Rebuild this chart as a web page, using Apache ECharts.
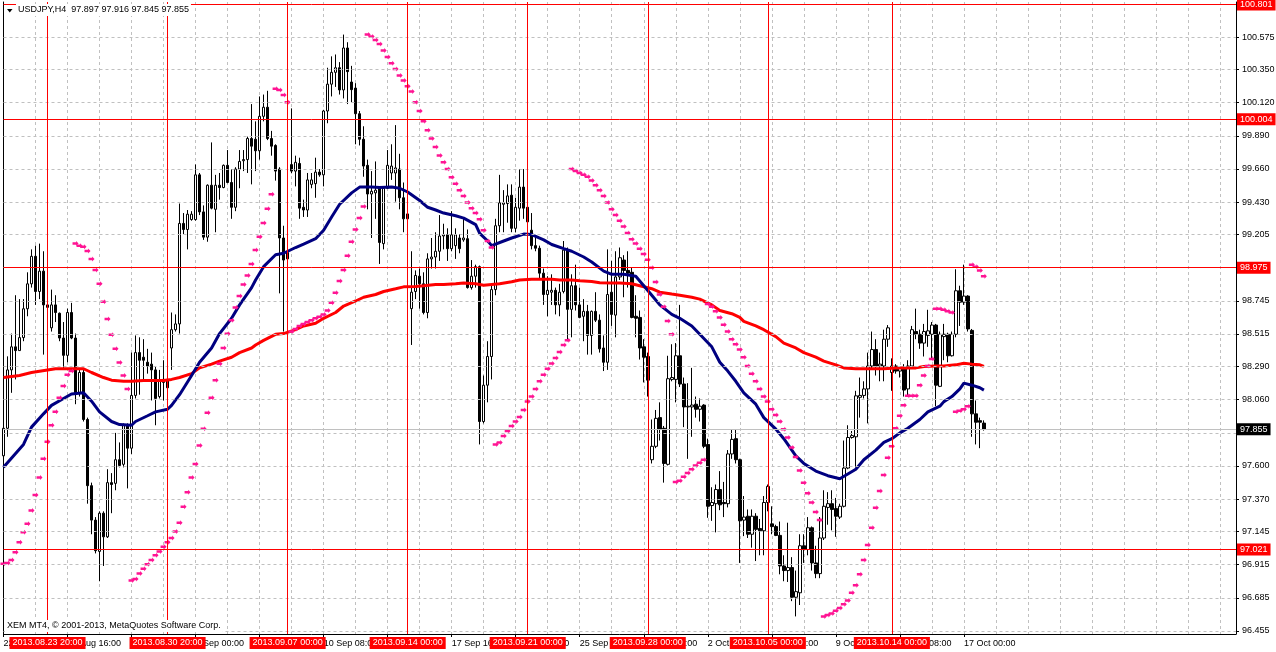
<!DOCTYPE html>
<html><head><meta charset="utf-8">
<script src="https://cdn.jsdelivr.net/npm/echarts@6/dist/echarts.min.js"></script>
<style>html,body{margin:0;padding:0;background:#fff;}#c{width:1276px;height:652px;}</style>
</head><body><div id="c"></div>
<script>
// ---------- DATA (USDJPY H4) ----------
const opens = [97.670,97.861,98.266,98.426,98.400,98.490,98.690,98.863,99.054,98.810,98.951,98.717,98.558,98.717,98.659,98.487,98.367,98.664,98.487,98.107,
98.248,97.922,97.463,97.224,97.007,97.272,97.108,97.484,97.479,97.643,97.611,97.882,97.723,98.089,98.386,98.354,98.319,98.306,98.266,98.081,
98.179,98.200,98.418,98.545,98.585,99.282,99.240,99.309,99.309,99.619,99.362,99.187,99.547,99.380,99.547,99.531,99.685,99.566,99.394,99.659,
99.717,99.725,99.871,99.866,99.786,100.025,100.088,99.871,99.823,99.659,99.181,99.036,99.690,99.645,99.698,99.394,99.375,99.553,99.558,99.638,
99.619,100.062,100.248,100.330,100.362,100.208,100.499,100.263,100.221,100.043,99.866,99.685,99.486,99.494,99.526,99.142,99.526,99.632,99.632,99.659,
99.460,99.314,98.691,98.810,98.916,98.863,98.664,99.036,99.049,99.089,99.195,99.203,99.107,99.128,99.181,99.168,99.176,98.837,98.916,98.982,
97.908,98.160,98.359,98.823,99.266,99.415,99.420,99.478,99.248,99.388,99.534,99.394,99.235,99.128,99.110,98.937,98.789,98.805,98.818,98.717,
98.810,99.097,98.686,98.850,98.717,98.638,98.672,98.505,98.672,98.611,98.418,98.319,98.805,98.646,98.911,99.028,98.956,98.943,98.638,98.630,
98.426,98.359,97.643,97.736,97.935,97.861,97.611,98.200,98.200,98.364,98.168,98.009,98.009,98.028,97.993,98.022,97.749,97.325,97.338,97.436,
97.346,97.338,97.683,97.789,97.643,97.224,97.251,97.126,97.251,97.166,97.150,97.346,97.198,97.179,97.118,96.906,96.874,96.895,96.689,96.720,
97.046,97.020,97.171,96.927,96.853,97.100,97.312,97.338,97.304,97.245,97.320,97.585,97.797,97.802,98.076,98.089,98.134,98.293,98.407,98.293,
98.293,98.479,98.248,98.293,98.258,98.285,98.134,98.293,98.532,98.513,98.452,98.505,98.513,98.577,98.152,98.497,98.513,98.364,98.513,98.815,
98.736,98.778,98.540,97.961,97.914,97.897];
const closes = [97.861,98.266,98.426,98.400,98.490,98.690,98.863,99.054,98.810,98.951,98.717,98.700,98.717,98.664,98.487,98.367,98.664,98.487,98.107,98.248,
97.922,97.463,97.224,97.012,97.272,97.108,97.484,97.471,97.643,97.603,97.882,97.723,98.089,98.386,98.333,98.333,98.293,98.266,98.068,98.187,
98.200,98.142,98.545,98.585,99.282,99.240,99.346,99.346,99.619,99.362,99.187,99.547,99.388,99.547,99.531,99.685,99.566,99.394,99.659,99.712,
99.725,99.871,99.818,99.786,100.025,100.088,99.871,99.818,99.645,99.181,99.028,99.081,99.645,99.706,99.388,99.375,99.584,99.584,99.638,99.619,
100.062,100.248,100.330,100.362,100.208,100.499,100.335,100.210,100.043,99.866,99.680,99.486,99.505,99.513,99.150,99.526,99.685,99.680,99.667,99.460,
99.314,99.348,98.805,98.921,98.863,98.664,99.036,99.049,99.089,99.195,99.203,99.107,99.203,99.203,99.107,99.181,98.837,98.916,98.982,97.908,
98.160,98.359,98.823,99.266,99.425,99.425,99.473,99.248,99.394,99.534,99.388,99.293,99.128,99.110,98.937,98.789,98.818,98.818,98.717,98.805,
99.097,98.686,98.850,98.717,98.630,98.672,98.505,98.672,98.611,98.412,98.319,98.789,98.651,98.911,99.044,98.956,98.937,98.630,98.624,98.418,
98.354,98.195,97.736,97.930,97.855,97.617,98.205,98.213,98.364,98.168,98.009,98.014,98.022,97.993,98.014,97.736,97.320,97.346,97.436,97.330,
97.338,97.683,97.784,97.643,97.219,97.245,97.126,97.251,97.160,97.150,97.346,97.458,97.179,97.118,96.906,96.874,96.895,96.689,96.728,97.046,
97.020,97.171,96.927,96.853,97.100,97.320,97.338,97.298,97.251,97.320,97.585,97.797,97.810,98.086,98.089,98.134,98.293,98.407,98.293,98.306,
98.479,98.558,98.293,98.258,98.285,98.126,98.293,98.545,98.513,98.452,98.532,98.537,98.577,98.160,98.513,98.513,98.364,98.513,98.815,98.736,
98.778,98.550,97.961,97.903,97.903,97.855];
const lows = [97.564,97.802,98.107,98.200,98.400,98.465,98.638,98.837,98.717,98.757,98.372,98.598,98.532,98.598,98.465,98.266,98.319,98.479,98.028,98.081,
97.908,97.338,97.126,96.993,96.800,96.906,97.100,97.272,97.431,97.590,97.590,97.444,97.683,98.068,98.094,98.187,98.240,98.054,97.882,98.068,
98.054,98.081,98.266,98.532,98.518,99.208,99.102,99.301,99.301,99.340,99.168,99.155,99.380,99.221,99.447,99.526,99.561,99.314,99.367,99.526,
99.645,99.632,99.553,99.645,99.725,99.990,99.860,99.752,99.579,98.797,98.532,98.996,99.630,99.539,99.314,99.327,99.327,99.526,99.460,99.606,
99.539,99.977,100.163,100.229,100.176,100.149,100.110,100.123,99.831,99.823,99.606,99.380,99.181,99.314,99.001,99.102,99.520,99.584,99.433,99.380,
99.221,99.181,98.439,98.757,98.691,98.651,98.624,98.969,98.969,99.022,99.102,99.022,99.089,99.036,99.075,99.155,98.830,98.823,98.837,97.749,
97.895,98.041,98.200,98.784,99.221,99.221,99.287,99.221,99.221,99.301,99.314,99.208,99.102,99.089,98.890,98.717,98.638,98.717,98.651,98.638,
98.797,98.465,98.492,98.678,98.624,98.465,98.372,98.372,98.598,98.386,98.258,98.266,98.571,98.492,98.890,98.770,98.837,98.624,98.492,98.338,
98.179,98.081,97.617,97.723,97.776,97.484,97.603,98.187,98.041,98.147,97.869,97.649,97.802,97.935,97.908,97.723,97.240,97.219,97.139,97.293,
97.245,97.312,97.649,97.617,96.927,97.113,97.100,97.033,96.940,96.980,96.980,97.285,97.126,97.113,96.848,96.800,96.795,96.662,96.556,96.635,
96.927,96.980,96.874,96.821,96.821,97.086,97.192,97.153,97.108,97.232,97.312,97.577,97.789,97.590,97.935,98.068,97.895,98.266,98.227,98.187,
98.187,98.426,98.121,98.240,98.213,98.081,98.081,98.280,98.479,98.412,98.359,98.426,98.346,98.014,98.147,98.333,98.319,98.359,98.492,98.571,
98.717,98.532,97.802,97.749,97.723,97.845];
const highs = [97.961,98.360,98.518,98.784,98.757,98.757,98.943,99.102,99.128,99.142,99.089,98.784,98.823,98.784,98.664,98.598,98.691,98.731,98.518,98.266,
98.266,97.935,97.484,97.245,97.285,97.285,97.577,97.550,97.829,97.763,97.895,97.895,98.386,98.505,98.492,98.479,98.412,98.386,98.293,98.266,
98.333,98.280,98.664,98.651,99.420,99.354,99.375,99.367,99.691,99.632,99.407,99.553,99.844,99.619,99.632,99.691,99.791,99.659,99.672,99.791,
99.791,99.884,100.110,99.990,100.163,100.176,100.202,99.924,99.831,99.672,99.266,99.261,100.080,99.752,99.738,99.447,99.632,99.632,99.738,99.659,
100.070,100.362,100.441,100.454,100.401,100.592,100.539,100.375,100.255,100.062,99.956,99.725,99.645,99.712,99.539,99.539,99.791,99.831,99.964,99.765,
99.566,99.394,99.089,98.956,98.969,98.943,99.075,99.181,99.221,99.340,99.280,99.248,99.367,99.248,99.208,99.314,99.240,99.028,98.996,98.990,
98.227,98.465,98.850,99.314,99.619,99.513,99.553,99.553,99.460,99.659,99.659,99.399,99.354,99.195,99.128,98.969,98.916,98.929,98.837,98.863,
99.160,99.115,98.929,98.996,98.837,98.757,98.717,98.678,98.805,98.651,98.505,99.102,99.022,99.089,99.115,99.062,99.089,98.975,98.784,98.678,
98.479,98.386,97.922,97.988,98.041,97.877,98.364,98.444,98.452,98.717,98.213,98.174,98.280,98.081,98.068,98.028,97.789,97.452,97.471,97.564,
97.489,97.710,97.855,97.855,97.650,97.391,97.298,97.298,97.272,97.232,97.391,97.471,97.320,97.192,97.214,96.980,97.206,96.967,96.874,97.126,
97.126,97.245,97.180,97.046,97.245,97.431,97.418,97.431,97.378,97.338,97.776,97.882,97.842,98.121,98.213,98.187,98.386,98.532,98.479,98.386,
98.545,98.577,98.346,98.306,98.293,98.306,98.333,98.571,98.691,98.545,98.585,98.683,98.598,98.585,98.532,98.585,98.524,98.532,98.964,98.850,
98.996,98.784,98.550,98.054,97.935,97.916];

// fast moving average (navy), read at these bars
const maFastBars = [0,5,7,10,12,15,17,20,22,24,27,29,32,33,36,38,41,42,44,47,49,52,54,57,59,62,63,65,68,70,73,75,78,80,82,84,87,89,92,94,97,99,101,104,106,108,110,113,115,118,119,121,122,125,127,130,132,135,137,140,142,145,147,150,152,155,158,160,162,164,167,169,172,174,177,179,181,183,185,188,190,193,195,198,200,203,206,209,213,215,218,220,222,224,226,229,231,234,235,237,239,240,242,244,245];
const maFastValues = [97.590,97.749,97.869,97.961,98.020,98.068,98.099,98.107,98.049,97.975,97.908,97.887,97.882,97.908,97.948,97.975,97.993,98.020,98.094,98.227,98.319,98.418,98.518,98.624,98.717,98.837,98.890,98.982,99.065,99.075,99.115,99.139,99.176,99.235,99.327,99.415,99.494,99.534,99.534,99.531,99.534,99.526,99.500,99.441,99.394,99.375,99.354,99.335,99.319,99.274,99.213,99.160,99.128,99.160,99.181,99.208,99.205,99.168,99.136,99.107,99.089,99.049,99.014,98.951,98.929,98.929,98.916,98.850,98.784,98.717,98.651,98.624,98.571,98.513,98.426,98.319,98.258,98.187,98.107,98.028,97.935,97.855,97.789,97.670,97.617,97.564,97.532,97.511,97.577,97.643,97.710,97.763,97.789,97.829,97.861,97.922,97.975,98.014,98.046,98.081,98.134,98.174,98.160,98.142,98.126];

// slow moving average (red), read at these bars
const maSlowBars = [0,4,7,11,13,16,20,22,25,27,30,32,35,40,42,44,47,49,52,54,57,59,62,63,65,68,70,73,75,78,80,83,85,88,90,93,95,98,100,103,105,108,110,113,115,118,120,124,127,129,132,137,139,142,144,147,149,152,154,157,159,162,164,167,169,172,174,177,179,182,184,185,188,190,193,195,198,200,203,205,208,210,213,220,223,228,230,233,235,238,240,242,244,245];
const maSlowValues = [98.213,98.227,98.248,98.266,98.274,98.274,98.274,98.248,98.213,98.195,98.187,98.187,98.192,98.192,98.200,98.213,98.240,98.280,98.306,98.327,98.354,98.386,98.418,98.439,98.471,98.513,98.518,98.545,98.571,98.590,98.624,98.664,98.709,98.744,98.770,98.789,98.810,98.829,98.842,98.845,98.850,98.858,98.858,98.863,98.869,98.863,98.853,98.863,98.877,98.890,98.895,98.895,98.890,98.890,98.884,98.879,98.871,98.869,98.869,98.863,98.850,98.829,98.805,98.792,98.784,98.770,98.757,98.717,98.678,98.656,98.630,98.603,98.571,98.545,98.497,98.452,98.418,98.386,98.354,98.327,98.301,98.280,98.274,98.274,98.280,98.280,98.290,98.293,98.293,98.301,98.312,98.306,98.301,98.290];

// parabolic SAR, one value per bar
const sarValues = [96.922,96.927,96.948,97.001,97.070,97.139,97.198,97.290,97.399,97.519,97.649,97.768,97.882,97.975,98.073,98.155,98.232,98.258,
99.142,99.128,99.120,99.091,99.036,98.959,98.863,98.739,98.619,98.510,98.412,98.317,98.227,98.134,
96.805,96.816,96.853,96.887,96.917,96.948,96.980,97.007,97.039,97.070,97.100,97.145,97.206,97.317,97.418,97.519,97.614,97.741,97.858,97.969,98.073,98.195,98.309,98.418,98.516,98.611,98.699,98.778,98.858,98.921,99.001,99.097,99.189,99.285,99.383,99.484,
100.216,100.208,100.173,100.123,
98.532,98.550,98.571,98.585,98.598,98.611,98.624,98.635,98.651,98.678,98.731,98.802,98.882,98.959,99.057,99.155,99.240,99.319,99.399,
100.592,100.579,100.555,100.526,100.481,100.436,100.393,100.354,100.308,100.274,100.234,100.197,100.123,100.062,99.990,99.929,99.871,99.812,99.754,99.706,99.659,99.603,99.558,99.513,99.473,99.428,99.388,99.354,99.311,99.234,99.160,99.115,
97.749,97.763,97.808,97.842,97.877,97.908,97.940,97.988,98.046,98.081,98.134,98.187,98.232,98.274,98.311,98.349,98.391,98.439,98.471,
99.659,99.645,99.632,99.619,99.606,99.579,99.547,99.513,99.473,99.428,99.380,99.341,99.301,99.261,99.216,99.173,99.142,99.107,99.070,99.030,98.975,98.876,98.789,98.704,98.606,98.513,
97.489,97.497,97.524,97.550,97.577,97.603,97.622,97.643,
98.723,98.704,98.672,98.630,98.579,98.532,98.479,98.444,98.407,98.354,98.293,98.240,98.187,98.134,98.081,98.046,97.993,97.954,97.908,97.855,97.797,97.728,97.662,97.569,97.484,97.410,97.346,97.280,97.224,
96.556,96.566,96.577,96.596,96.614,96.641,96.667,96.720,96.773,96.848,96.948,97.052,97.171,97.309,97.426,97.537,97.657,97.736,97.861,97.948,98.020,98.086,98.086,98.086,98.160,98.227,98.293,98.341,
98.691,98.691,98.683,98.672,98.664,
97.975,97.983,97.993,98.014,
98.996,98.982,98.956,98.916];

// axis tick labels
const tickBars = [0,16,32,48,64,80,96,112,128,144,160,176,192,208,224,240];
const tickLabels = ['22 Aug 2013','26 Aug 16:00','29 Aug 08:00','3 Sep 00:00','5 Sep 16:00','10 Sep 08:00','13 Sep 00:00','17 Sep 16:00','20 Sep 08:00','25 Sep 00:00','27 Sep 16:00','2 Oct 08:00','7 Oct 00:00','9 Oct 16:00','14 Oct 08:00','17 Oct 00:00'];
const priceLevels = [96.455,96.685,96.915,97.145,97.370,97.600,97.830,98.060,98.290,98.515,98.745,98.975,99.205,99.430,99.660,99.890,100.120,100.350,100.575];

// chart objects
const hLineLevels = [100.801,100.004,98.975,97.021];
const currentPrice = 97.855;
const vLineBars = [11,41,71,101,131,161,191,222];
const vLineLabels = ['2013.08.23 20:00','2013.08.30 20:00','2013.09.07 00:00','2013.09.14 00:00','2013.09.21 00:00','2013.09.28 00:00','2013.10.05 00:00','2013.10.14 00:00'];
const titleText = 'USDJPY,H4  97.897 97.916 97.845 97.855';
const copyrightText = 'XEM MT4, \u00a9 2001-2013, MetaQuotes Software Corp.';

// ---------- CHART ----------
const N_SLOTS = 309;
const FONT = 'Liberation Sans';
const categories = Array.from({length: N_SLOTS}, (_, i) => String(i));
const candleData = opens.map((o, i) => [o, closes[i], lows[i], highs[i]]);
const maFast = maFastBars.map((b, i) => [b, maFastValues[i]]);
const maSlow = maSlowBars.map((b, i) => [b, maSlowValues[i]]);
const tickSet = new Set(tickBars);
const Y_MIN = 96.434, Y_MAX = 100.818;

const tagLabel = (bg) => ({
  show: true, position: 'end', distance: 1, color: '#fff', backgroundColor: bg,
  fontSize: 9, fontFamily: FONT, lineHeight: 10, padding: [1, 3, 1, 3],
  formatter: p => Number(p.data && p.data.yAxis != null ? p.data.yAxis : p.value).toFixed(3)
});

const chart = echarts.init(document.getElementById('c'), null, {renderer: 'canvas'});
chart.setOption({
  animation: false,
  backgroundColor: '#ffffff',
  textStyle: {fontFamily: FONT},
  grid: {left: 3.5, right: 40, top: 2, bottom: 18, outerBoundsMode: 'none'},
  title: [
    {text: titleText, left: 16, top: 4, padding: [1, 2, 1, 2], backgroundColor: '#fff',
     textStyle: {fontSize: 9, fontWeight: 'normal', color: '#000', fontFamily: FONT, lineHeight: 10}},
    {text: copyrightText, left: 5, top: 620, padding: [1, 2, 1, 2], backgroundColor: '#fff',
     textStyle: {fontSize: 9, fontWeight: 'normal', color: '#000', fontFamily: FONT, lineHeight: 10}}
  ],
  graphic: [{type: 'polygon', z: 100, shape: {points: [[7, 9], [12.5, 9], [9.75, 12.5]]}, style: {fill: '#000'}}],
  xAxis: {
    type: 'category', data: categories, boundaryGap: false,
    axisLine: {show: true, lineStyle: {color: '#000', width: 1}},
    axisTick: {show: true, length: 3, interval: (i) => tickSet.has(i), lineStyle: {color: '#000'}},
    axisLabel: {show: true, interval: (i) => tickSet.has(i), align: 'left', margin: 5, color: '#000',
      fontSize: 9, fontFamily: FONT,
      formatter: (v, i) => { const k = tickBars.indexOf(i); return k >= 0 ? tickLabels[k] : ''; }},
    splitLine: {show: true, interval: (i) => i > 0 && i % 8 === 0, lineStyle: {color: '#c0c0c0', type: [3, 3], width: 1}}
  },
  yAxis: [
    {type: 'value', position: 'right', min: Y_MIN, max: Y_MAX, scale: true,
     axisLine: {show: true, lineStyle: {color: '#000'}},
     axisTick: {show: true, length: 3, customValues: priceLevels, lineStyle: {color: '#000'}},
     axisLabel: {show: true, customValues: priceLevels, margin: 6, color: '#000', fontSize: 9, fontFamily: FONT,
       formatter: v => Number(v).toFixed(3)},
     splitLine: {show: false}},
    {type: 'value', position: 'left', min: Y_MIN, max: Y_MAX, scale: true,
     axisLine: {show: true, lineStyle: {color: '#000'}}, axisTick: {show: false}, axisLabel: {show: false}, splitLine: {show: false}}
  ],
  series: [
    {name: 'grid', type: 'line', data: [], z: 1, clip: false, silent: true,
     markLine: {silent: true, symbol: 'none', animation: false, label: {show: false}, precision: 3,
       lineStyle: {color: '#c0c0c0', type: [3, 3], width: 1},
       data: priceLevels.map(v => ({yAxis: v}))}},
    {name: 'price', type: 'line', data: [], z: 1.2, clip: false, silent: true,
     markLine: {silent: true, symbol: 'none', animation: false, precision: 3,
       lineStyle: {color: '#c0c0c0', type: 'solid', width: 1},
       label: tagLabel('#000'),
       data: [{yAxis: currentPrice}]}},
    {name: 'hlines', type: 'line', data: [], z: 1.4, clip: false, silent: true,
     markLine: {silent: true, symbol: 'none', animation: false, precision: 3,
       lineStyle: {color: '#ff0000', type: 'solid', width: 1},
       label: tagLabel('#ff0000'),
       data: hLineLevels.map(v => ({yAxis: v}))}},
    {name: 'vlines', type: 'line', data: [], z: 1.5, clip: false, silent: true,
     markLine: {silent: true, symbol: 'none', animation: false,
       lineStyle: {color: '#ff0000', type: 'solid', width: 1},
       label: {show: true, position: 'start', distance: 3, color: '#fff', backgroundColor: '#ff0000',
         fontSize: 9, fontFamily: FONT, lineHeight: 10, padding: [1, 3, 1, 3]},
       data: vLineBars.map((b, i) => ({xAxis: b, label: {formatter: vLineLabels[i]}}))}},
    {name: 'USDJPY', type: 'candlestick', data: candleData, z: 2, barWidth: 3,
     itemStyle: {color: '#ffffff', color0: '#000000', borderColor: '#000000', borderColor0: '#000000', borderWidth: 1}},
    {name: 'MA slow', type: 'line', data: maSlow, z: 3, showSymbol: false, symbol: 'none', connectNulls: true,
     lineStyle: {color: '#ff0000', width: 3}},
    {name: 'MA fast', type: 'line', data: maFast, z: 3, showSymbol: false, symbol: 'none', connectNulls: true,
     lineStyle: {color: '#000080', width: 3}},
    {name: 'SAR', type: 'scatter', data: sarValues, z: 4,
     symbol: 'path://M0,1 L3,1 L3,0 L5,2 L3,4 L3,3 L0,3 Z', symbolSize: [6, 5],
     itemStyle: {color: '#ff1493', opacity: 1}}
  ]
});
</script></body></html>
